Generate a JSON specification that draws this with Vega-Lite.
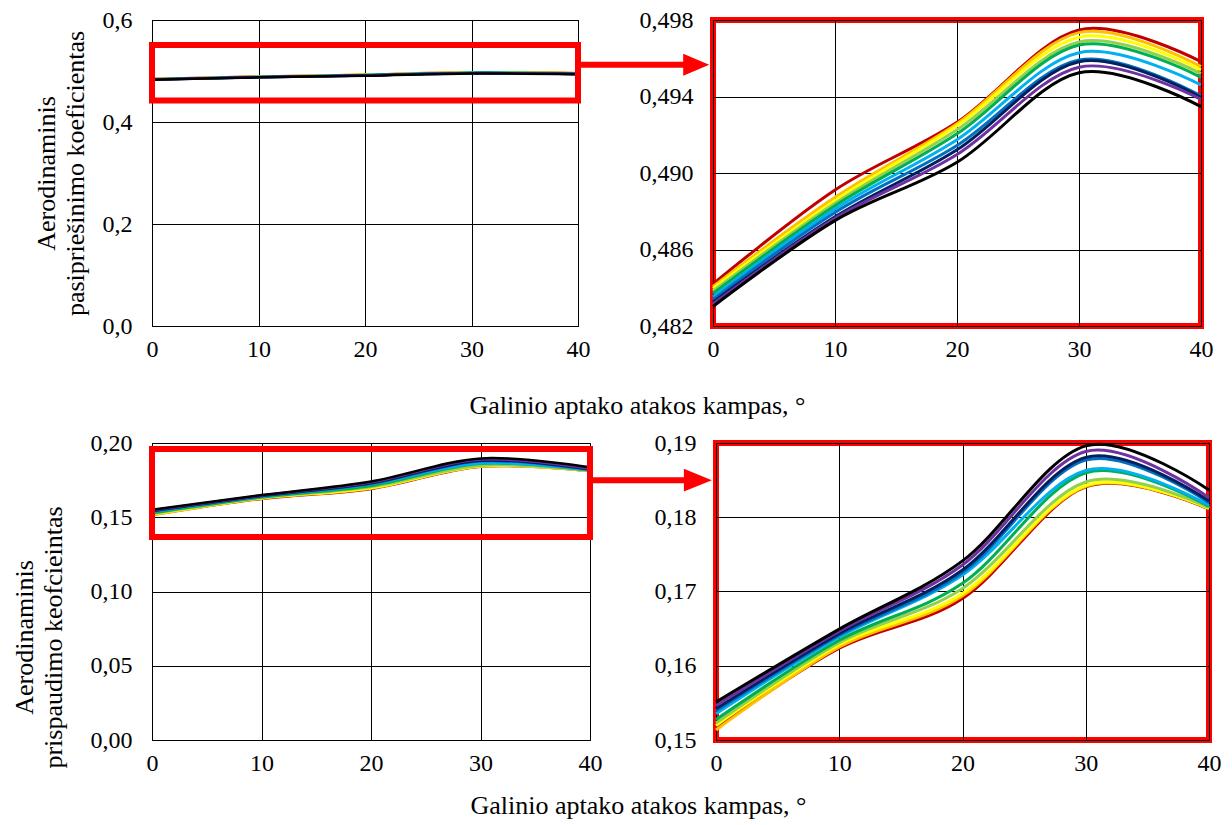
{
  "$schema": "https://vega.github.io/schema/vega-lite/v6.json",
  "background": "white",
  "padding": {"left": 10, "top": 5, "right": 5, "bottom": 5},
  "config": {
    "font": "Liberation Serif, Times New Roman, serif",
    "view": {"stroke": "#000000", "strokeWidth": 1},
    "axis": {
      "labelFont": "Liberation Serif, Times New Roman, serif",
      "labelFontSize": 24,
      "labelColor": "#000000",
      "labelFlush": false,
      "titleFont": "Liberation Serif, Times New Roman, serif",
      "titleFontSize": 26,
      "titleFontWeight": "normal",
      "titleColor": "#000000",
      "grid": true,
      "gridColor": "#000000",
      "gridOpacity": 1,
      "gridWidth": 1,
      "domain": false,
      "ticks": false,
      "tickSize": 0
    },
    "axisX": {"labelPadding": 11},
    "axisY": {"labelPadding": 20}
  },
  "datasets": {
    "drag": [
      {"variant": "v1", "angle": 0, "coef": 0.48420}, {"variant": "v1", "angle": 10, "coef": 0.48911}, {"variant": "v1", "angle": 20, "coef": 0.49265}, {"variant": "v1", "angle": 30, "coef": 0.49748}, {"variant": "v1", "angle": 40, "coef": 0.49582},
      {"variant": "v2", "angle": 0, "coef": 0.48406}, {"variant": "v2", "angle": 10, "coef": 0.48873}, {"variant": "v2", "angle": 20, "coef": 0.49258}, {"variant": "v2", "angle": 30, "coef": 0.49734}, {"variant": "v2", "angle": 40, "coef": 0.49556},
      {"variant": "v3", "angle": 0, "coef": 0.48396}, {"variant": "v3", "angle": 10, "coef": 0.48855}, {"variant": "v3", "angle": 20, "coef": 0.49247}, {"variant": "v3", "angle": 30, "coef": 0.49710}, {"variant": "v3", "angle": 40, "coef": 0.49539},
      {"variant": "v4", "angle": 0, "coef": 0.48383}, {"variant": "v4", "angle": 10, "coef": 0.48842}, {"variant": "v4", "angle": 20, "coef": 0.49226}, {"variant": "v4", "angle": 30, "coef": 0.49685}, {"variant": "v4", "angle": 40, "coef": 0.49520},
      {"variant": "v5", "angle": 0, "coef": 0.48370}, {"variant": "v5", "angle": 10, "coef": 0.48829}, {"variant": "v5", "angle": 20, "coef": 0.49205}, {"variant": "v5", "angle": 30, "coef": 0.49669}, {"variant": "v5", "angle": 40, "coef": 0.49500},
      {"variant": "v6", "angle": 0, "coef": 0.48352}, {"variant": "v6", "angle": 10, "coef": 0.48812}, {"variant": "v6", "angle": 20, "coef": 0.49174}, {"variant": "v6", "angle": 30, "coef": 0.49629}, {"variant": "v6", "angle": 40, "coef": 0.49460},
      {"variant": "v7", "angle": 0, "coef": 0.48338}, {"variant": "v7", "angle": 10, "coef": 0.48794}, {"variant": "v7", "angle": 20, "coef": 0.49144}, {"variant": "v7", "angle": 30, "coef": 0.49591}, {"variant": "v7", "angle": 40, "coef": 0.49403},
      {"variant": "v8", "angle": 0, "coef": 0.48325}, {"variant": "v8", "angle": 10, "coef": 0.48771}, {"variant": "v8", "angle": 20, "coef": 0.49121}, {"variant": "v8", "angle": 30, "coef": 0.49582}, {"variant": "v8", "angle": 40, "coef": 0.49396},
      {"variant": "v9", "angle": 0, "coef": 0.48315}, {"variant": "v9", "angle": 10, "coef": 0.48763}, {"variant": "v9", "angle": 20, "coef": 0.49097}, {"variant": "v9", "angle": 30, "coef": 0.49553}, {"variant": "v9", "angle": 40, "coef": 0.49385},
      {"variant": "v10", "angle": 0, "coef": 0.48302}, {"variant": "v10", "angle": 10, "coef": 0.48751}, {"variant": "v10", "angle": 20, "coef": 0.49056}, {"variant": "v10", "angle": 30, "coef": 0.49524}, {"variant": "v10", "angle": 40, "coef": 0.49347}
    ],
    "downforce": [
      {"variant": "v1", "angle": 0, "coef": 0.15160}, {"variant": "v1", "angle": 10, "coef": 0.16236}, {"variant": "v1", "angle": 20, "coef": 0.16907}, {"variant": "v1", "angle": 30, "coef": 0.18408}, {"variant": "v1", "angle": 40, "coef": 0.18110},
      {"variant": "v2", "angle": 0, "coef": 0.15135}, {"variant": "v2", "angle": 10, "coef": 0.16253}, {"variant": "v2", "angle": 20, "coef": 0.16943}, {"variant": "v2", "angle": 30, "coef": 0.18418}, {"variant": "v2", "angle": 40, "coef": 0.18115},
      {"variant": "v3", "angle": 0, "coef": 0.15195}, {"variant": "v3", "angle": 10, "coef": 0.16285}, {"variant": "v3", "angle": 20, "coef": 0.16974}, {"variant": "v3", "angle": 30, "coef": 0.18430}, {"variant": "v3", "angle": 40, "coef": 0.18120},
      {"variant": "v4", "angle": 0, "coef": 0.15230}, {"variant": "v4", "angle": 10, "coef": 0.16312}, {"variant": "v4", "angle": 20, "coef": 0.17042}, {"variant": "v4", "angle": 30, "coef": 0.18475}, {"variant": "v4", "angle": 40, "coef": 0.18130},
      {"variant": "v5", "angle": 0, "coef": 0.15275}, {"variant": "v5", "angle": 10, "coef": 0.16343}, {"variant": "v5", "angle": 20, "coef": 0.17110}, {"variant": "v5", "angle": 30, "coef": 0.18600}, {"variant": "v5", "angle": 40, "coef": 0.18145},
      {"variant": "v6", "angle": 0, "coef": 0.15355}, {"variant": "v6", "angle": 10, "coef": 0.16389}, {"variant": "v6", "angle": 20, "coef": 0.17222}, {"variant": "v6", "angle": 30, "coef": 0.18630}, {"variant": "v6", "angle": 40, "coef": 0.18160},
      {"variant": "v7", "angle": 0, "coef": 0.15390}, {"variant": "v7", "angle": 10, "coef": 0.16410}, {"variant": "v7", "angle": 20, "coef": 0.17254}, {"variant": "v7", "angle": 30, "coef": 0.18770}, {"variant": "v7", "angle": 40, "coef": 0.18196},
      {"variant": "v8", "angle": 0, "coef": 0.15420}, {"variant": "v8", "angle": 10, "coef": 0.16433}, {"variant": "v8", "angle": 20, "coef": 0.17289}, {"variant": "v8", "angle": 30, "coef": 0.18805}, {"variant": "v8", "angle": 40, "coef": 0.18218},
      {"variant": "v9", "angle": 0, "coef": 0.15465}, {"variant": "v9", "angle": 10, "coef": 0.16466}, {"variant": "v9", "angle": 20, "coef": 0.17358}, {"variant": "v9", "angle": 30, "coef": 0.18885}, {"variant": "v9", "angle": 40, "coef": 0.18264},
      {"variant": "v10", "angle": 0, "coef": 0.15510}, {"variant": "v10", "angle": 10, "coef": 0.16493}, {"variant": "v10", "angle": 20, "coef": 0.17412}, {"variant": "v10", "angle": 30, "coef": 0.18962}, {"variant": "v10", "angle": 40, "coef": 0.18366}
    ]
  },
  "spacing": 9,
  "vconcat": [
    {
      "bounds": "flush",
      "spacing": 135,
      "hconcat": [
        {
          "width": 426,
          "height": 306,
          "layer": [
            {
              "data": {"name": "drag"},
              "mark": {"type": "line", "interpolate": "cardinal", "strokeWidth": 2.5},
              "encoding": {
                "x": {"field": "angle", "type": "quantitative", "scale": {"domain": [0, 40]},
                      "axis": {"values": [0, 10, 20, 30, 40], "title": "Galinio aptako atakos kampas, °", "titleX": 485, "titleY": 66, "titleBaseline": "top", "titleAlign": "center", "titleAnchor": null}},
                "y": {"field": "coef", "type": "quantitative", "scale": {"domain": [0, 0.6]},
                      "axis": {"values": [0, 0.2, 0.4, 0.6], "labelExpr": "replace(format(datum.value, '.1f'), '.', ',')",
                               "title": ["Aerodinaminis", "pasipriešinimo koeficientas"], "titleX": -93, "titleY": 153, "titleBaseline": "bottom", "titleAlign": "center", "titleAngle": 270, "titleLineHeight": 29}},
                "color": {"field": "variant", "type": "nominal", "legend": null,
                          "scale": {"domain": ["v1", "v2", "v3", "v4", "v5", "v6", "v7", "v8", "v9", "v10"],
                                    "range": ["#C00000", "#FFC000", "#FFFF00", "#92D050", "#00B050", "#00B0F0", "#0070C0", "#002060", "#7030A0", "#000000"]}}
              }
            },
            {
              "data": {"values": [{}]},
              "mark": {"type": "rect", "fillOpacity": 0, "stroke": "#FF0000", "strokeWidth": 6},
              "encoding": {"x": {"datum": 0}, "x2": {"datum": 40}, "y": {"datum": 0.442}, "y2": {"datum": 0.551}}
            },
            {
              "data": {"values": [{}]},
              "mark": {"type": "rule", "color": "#FF0000", "strokeWidth": 6},
              "encoding": {"x": {"datum": 40}, "x2": {"datum": 50.1}, "y": {"datum": 0.5124}}
            },
            {
              "data": {"values": [{}]},
              "mark": {"type": "point", "shape": "M-1,-0.85L1,0L-1,0.85Z", "filled": true, "color": "#FF0000", "size": 676, "opacity": 1, "strokeWidth": 0},
              "encoding": {"x": {"datum": 51.1}, "y": {"datum": 0.5124}}
            }
          ]
        },
        {
          "width": 488,
          "height": 306,
          "view": {"stroke": "#FF0000", "strokeWidth": 6},
          "data": {"name": "drag"},
          "mark": {"type": "line", "interpolate": "cardinal", "strokeWidth": 3},
          "encoding": {
            "x": {"field": "angle", "type": "quantitative", "scale": {"domain": [0, 40]}, "axis": {"values": [0, 10, 20, 30, 40], "title": null}},
            "y": {"field": "coef", "type": "quantitative", "scale": {"domain": [0.482, 0.498], "zero": false},
                  "axis": {"values": [0.482, 0.486, 0.490, 0.494, 0.498], "labelExpr": "replace(format(datum.value, '.3f'), '.', ',')", "title": null}},
            "color": {"field": "variant", "type": "nominal", "legend": null}
          }
        }
      ]
    },
    {
      "bounds": "flush",
      "spacing": 126,
      "hconcat": [
        {
          "width": 438,
          "height": 297,
          "layer": [
            {
              "data": {"name": "downforce"},
              "mark": {"type": "line", "interpolate": "cardinal", "strokeWidth": 2.5},
              "encoding": {
                "x": {"field": "angle", "type": "quantitative", "scale": {"domain": [0, 40]},
                      "axis": {"values": [0, 10, 20, 30, 40], "title": "Galinio aptako atakos kampas, °", "titleX": 486, "titleY": 52, "titleBaseline": "top", "titleAlign": "center", "titleAnchor": null}},
                "y": {"field": "coef", "type": "quantitative", "scale": {"domain": [0, 0.2]},
                      "axis": {"values": [0, 0.05, 0.1, 0.15, 0.2], "labelExpr": "replace(format(datum.value, '.2f'), '.', ',')",
                               "title": ["Aerodinaminis", "prispaudimo keofcieintas"], "titleX": -115, "titleY": 194, "titleBaseline": "bottom", "titleAlign": "center", "titleAngle": 270, "titleLineHeight": 29}},
                "color": {"field": "variant", "type": "nominal", "legend": null}
              }
            },
            {
              "data": {"values": [{}]},
              "mark": {"type": "rect", "fillOpacity": 0, "stroke": "#FF0000", "strokeWidth": 6},
              "encoding": {"x": {"datum": 0}, "x2": {"datum": 40}, "y": {"datum": 0.1367}, "y2": {"datum": 0.196}}
            },
            {
              "data": {"values": [{}]},
              "mark": {"type": "rule", "color": "#FF0000", "strokeWidth": 6},
              "encoding": {"x": {"datum": 40}, "x2": {"datum": 48.6}, "y": {"datum": 0.175}}
            },
            {
              "data": {"values": [{}]},
              "mark": {"type": "point", "shape": "M-1,-0.82L1,0L-1,0.82Z", "filled": true, "color": "#FF0000", "size": 784, "opacity": 1, "strokeWidth": 0},
              "encoding": {"x": {"datum": 49.85}, "y": {"datum": 0.175}}
            }
          ]
        },
        {
          "width": 493,
          "height": 297,
          "view": {"stroke": "#FF0000", "strokeWidth": 6},
          "data": {"name": "downforce"},
          "mark": {"type": "line", "interpolate": "cardinal", "strokeWidth": 3},
          "encoding": {
            "x": {"field": "angle", "type": "quantitative", "scale": {"domain": [0, 40]}, "axis": {"values": [0, 10, 20, 30, 40], "title": null}},
            "y": {"field": "coef", "type": "quantitative", "scale": {"domain": [0.15, 0.19], "zero": false},
                  "axis": {"values": [0.15, 0.16, 0.17, 0.18, 0.19], "labelExpr": "replace(format(datum.value, '.2f'), '.', ',')", "title": null}},
            "color": {"field": "variant", "type": "nominal", "legend": null}
          }
        }
      ]
    }
  ]
}
